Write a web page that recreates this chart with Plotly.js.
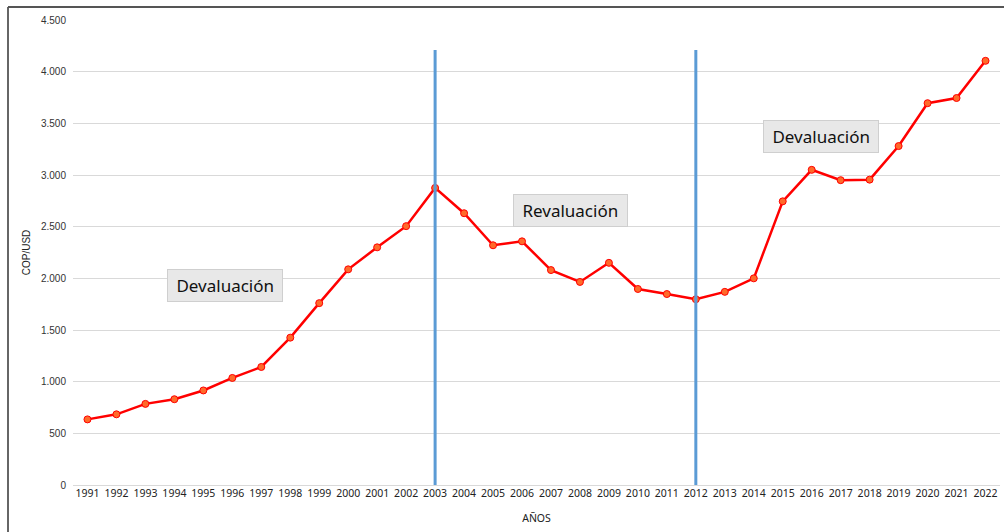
<!DOCTYPE html>
<html>
<head>
<meta charset="utf-8">
<script src="https://cdn.plot.ly/plotly-3.0.1.min.js"></script>
<style>
html,body{margin:0;padding:0;background:#fff;}
#chart{width:1004px;height:532px;}
</style>
</head>
<body>
<div id="chart"></div>
<script>
const years = [1991,1992,1993,1994,1995,1996,1997,1998,1999,2000,2001,2002,2003,2004,2005,2006,2007,2008,2009,2010,2011,2012,2013,2014,2015,2016,2017,2018,2019,2020,2021,2022];
const copUsd = [635,684,785,830,915,1036,1142,1426,1760,2087,2300,2505,2875,2630,2320,2358,2080,1965,2150,1897,1848,1798,1869,2000,2745,3050,2950,2955,3280,3695,3745,4105];
const yTicks = [0,500,1000,1500,2000,2500,3000,3500,4000,4500];
const yTickText = ["0","500","1.000","1.500","2.000","2.500","3.000","3.500","4.000","4.500"];
const breakYears = [2003, 2012];
const breakTop = 4210;
const labels = ["Devaluación","Revaluación","Devaluación"];
const labelX = [1995.73, 2007.69, 2016.33];
const labelY = [1926, 2652, 3368];

const trace = {
  x: years, y: copUsd, type: 'scatter', mode: 'lines+markers',
  line: {color: '#ff0000', width: 2.5},
  marker: {size: 7, color: '#ff6a2a', line: {color: '#ff0000', width: 1}},
  hoverinfo: 'x+y', showlegend: false
};

const shapes = breakYears.map(y => ({
  type: 'line', xref: 'x', yref: 'y', x0: y, x1: y, y0: 0, y1: breakTop,
  line: {color: '#5b9bd5', width: 3}, layer: 'above'
}));
// frame lines (left and top)
shapes.push({type:'line', xref:'paper', yref:'paper', x0:(8-73)/927, x1:(8-73)/927, y0:-47/465, y1:1+13/465, line:{color:'#666', width:2}});
shapes.push({type:'line', xref:'paper', yref:'paper', x0:(8-73)/927, x1:(1004-73)/927, y0:1+13/465, y1:1+13/465, line:{color:'#555', width:2}});

const annotations = labels.map((t,i) => ({
  x: labelX[i], y: labelY[i], xref: 'x', yref: 'y', text: '&nbsp;' + t + '&nbsp;', showarrow: false,
  font: {family: 'Noto Sans, Open Sans, sans-serif', size: 17, color: '#111'},
  bgcolor: '#e8e8e8', bordercolor: '#cfcfcf', borderwidth: 1, borderpad: 4
}));

const layout = {
  width: 1004, height: 532,
  margin: {l: 73, r: 4, t: 20, b: 47},
  paper_bgcolor: '#fff', plot_bgcolor: '#fff',
  xaxis: {
    type: 'linear', range: [1990.5, 2022.5], tickvals: years, ticktext: years.map(String),
    showgrid: false, zeroline: false, showline: false, ticks: '',
    tickfont: {family: 'Noto Sans, sans-serif', size: 10.5, color: '#222'},
    title: {text: 'AÑOS', font: {family: 'Noto Sans, sans-serif', size: 10.5, color: '#222'}, standoff: 16},
    fixedrange: true
  },
  yaxis: {
    range: [0, 4500], tickvals: yTicks, ticktext: yTickText,
    showgrid: true, gridcolor: '#d9d9d9', gridwidth: 1,
    zeroline: true, zerolinecolor: '#d9d9d9', zerolinewidth: 1,
    showline: false, ticks: '', ticklabelstandoff: 6,
    tickfont: {family: 'Liberation Sans, Arial, sans-serif', size: 10, color: '#333'},
    title: {text: 'COP/USD', font: {family: 'Liberation Sans, Arial, sans-serif', size: 10, color: '#222'}, standoff: 8},
    fixedrange: true
  },
  shapes: shapes,
  annotations: annotations,
  showlegend: false
};

Plotly.newPlot('chart', [trace], layout, {displayModeBar: false, staticPlot: true});
</script>
</body>
</html>
